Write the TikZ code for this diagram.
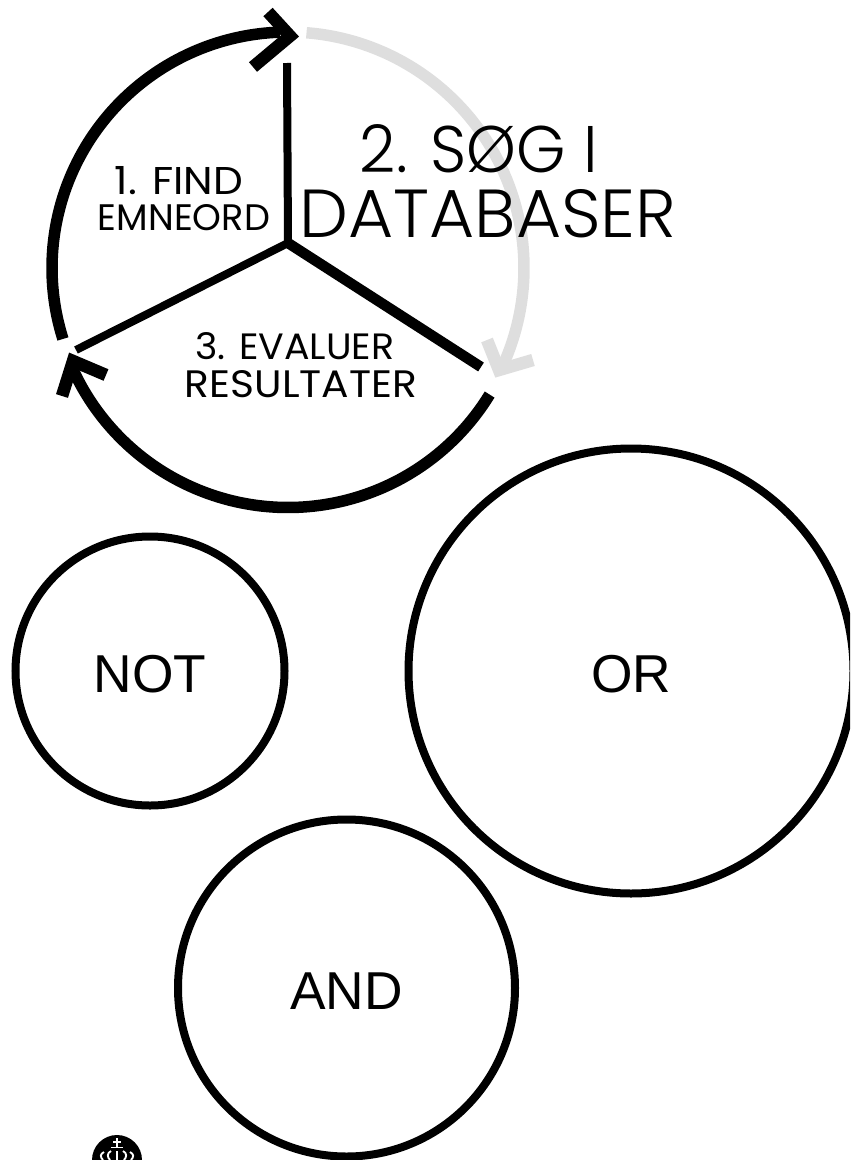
\documentclass[tikz,border=0pt]{standalone}
\usepackage{graphicx}
\usepackage{fontspec}
\setmainfont{Liberation Sans}
\newfontfamily\handfont[UprightFont=* Light]{Poppins}
\newfontfamily\handfontsmall{Poppins}
\definecolor{cyclegrey}{HTML}{DEDEDE}
\newcommand{\handtext}[3]{\resizebox{\dimexpr #1pt*3/4\relax}{\dimexpr #2pt*3/4\relax}{\handfont #3}}
\newcommand{\handsmall}[3]{\resizebox{\dimexpr #1pt*3/4\relax}{\dimexpr #2pt*3/4\relax}{\handfontsmall #3}}
\tikzset{
  x=0.75pt,y=-0.75pt,
  ring/.style={draw=black,circle,line width=6pt,inner sep=0pt,text height=31.6pt,text depth=0pt,font=\fontsize{40}{40}\selectfont},
  spoke/.style={line width=#1*0.75pt,line cap=butt,black},
  cyclearc/.style={line width=#1*0.75pt,line cap=butt},
  arrowhead/.style={line width=#1*0.75pt,line cap=butt,line join=miter,miter limit=10},
  hand/.style={inner sep=0pt,outer sep=0pt,anchor=center},
  crownline/.style={white,line width=1.4pt},
}
\begin{document}
\begin{tikzpicture}
\useasboundingbox (0,0) rectangle (850,1160);
\clip (0,0) rectangle (850,1160);
% spokes
\coordinate (hub) at (288,243);
\coordinate (sTop) at (287,63);
\coordinate (sRight) at (481,367);
\coordinate (sLeft) at (76,350);
\draw[spoke=8] (hub) -- (sTop);
\draw[spoke=10.5] (hub) -- (sRight);
\draw[spoke=8] (hub) -- (sLeft);
\fill[black] (hub) circle[radius=3.5pt];
% arcs
\draw[cyclearc=11.5,cyclegrey] plot[smooth,domain=-85.5:26,samples=50] ({288+236*cos(\x)},{268+236*sin(\x)});
\coordinate (gTip) at (499,370);
\coordinate (gA) at (487,340);
\coordinate (gB) at (533,360);
\draw[arrowhead=12.5,cyclegrey] (gA) -- (gTip) -- (gB);
\draw[cyclearc=11.5] plot[smooth,domain=162.5:268,samples=50] ({288+236*cos(\x)},{268+236*sin(\x)});
\coordinate (aTip) at (290,36);
\coordinate (aA) at (268,12);
\coordinate (aB) at (253,67);
\draw[arrowhead=12.5] (aA) -- (aTip) -- (aB);
\draw[cyclearc=11.5] plot[smooth,domain=31.5:155,samples=50] ({288+236.5*cos(\x)},{271+236.5*sin(\x)});
\coordinate (cTip) at (73,361);
\coordinate (cA) at (106,375);
\coordinate (cB) at (62,396);
\draw[arrowhead=12.5] (cA) -- (cTip) -- (cB);
% hand lettering
\node[hand] (t1a) at (179,181) {\handsmall{128}{28}{1. FIND}};
\node[hand] (t1b) at (184,218) {\handsmall{172}{26}{EMNEORD}};
\node[hand] (t2a) at (479,149) {\handtext{238}{48}{2. SØG I}};
\node[hand] (t2b) at (488,214) {\handtext{377}{48}{DATABASER}};
\node[hand] (t3a) at (295,346) {\handsmall{199}{27}{3. EVALUER}};
\node[hand] (t3b) at (301,384) {\handsmall{232}{27}{RESULTATER}};
% circles
\node[ring,minimum size=269*0.75pt] (not) at (150,671) {NOT};
\node[ring,minimum size=445*0.75pt] (or) at (631,671) {OR};
\node[ring,minimum size=337*0.75pt] (and) at (346.5,988) {AND};
% crown mark
\fill[black] (117,1160) circle[radius=25*0.75pt];
\draw[crownline] (117,1138) -- (117,1147) (113,1142) -- (121,1142) (111,1147.5) -- (123,1147.5);
\draw[crownline] (117,1151) -- (117,1160);
\draw[crownline] (111,1151) .. controls (107,1153) and (107,1157) .. (110,1160);
\draw[crownline] (104,1152) .. controls (100,1154) and (100,1157) .. (103,1160);
\draw[crownline] (123,1151) .. controls (127,1153) and (127,1157) .. (124,1160);
\draw[crownline] (130,1152) .. controls (134,1154) and (134,1157) .. (131,1160);
\end{tikzpicture}
\end{document}
